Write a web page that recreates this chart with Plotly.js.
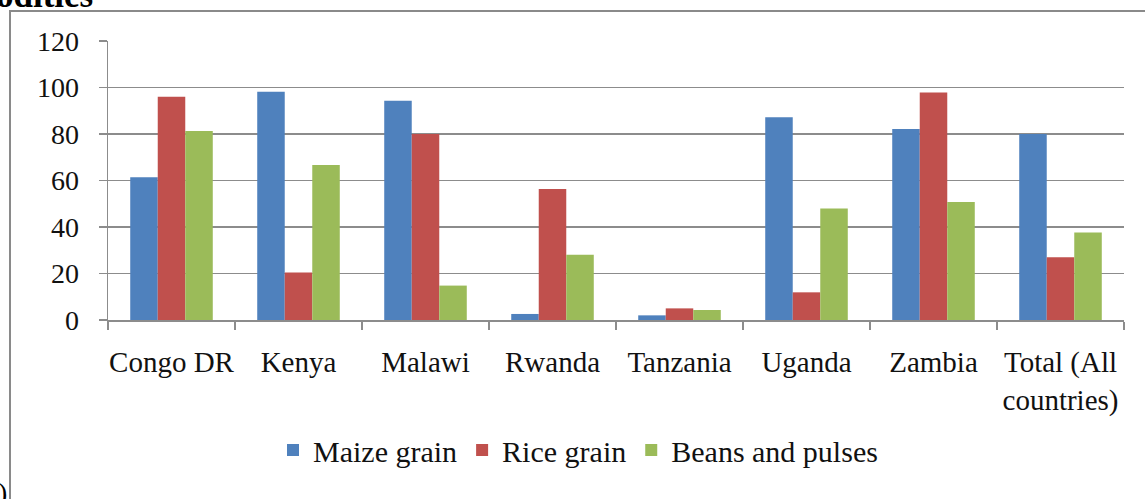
<!DOCTYPE html>
<html>
<head>
<meta charset="utf-8">
<script src="https://cdn.plot.ly/plotly-3.0.1.min.js"></script>
<style>
html,body{margin:0;padding:0;background:#fff;overflow:hidden;}
#chart{width:1145px;height:499px;}
</style>
</head>
<body>
<div id="chart"></div>
<script>
const categories = ["Congo DR", "Kenya", "Malawi", "Rwanda", "Tanzania", "Uganda", "Zambia", "Total (All<br>countries)"];
const seriesNames = ["Maize grain", "Rice grain", "Beans and pulses"];
const maize = [61.4, 98.2, 94.3, 2.6, 2.0, 87.2, 82.2, 80.0];
const rice = [96.0, 20.4, 80.0, 56.3, 5.0, 11.9, 97.9, 27.0];
const beans = [81.3, 66.7, 14.8, 28.1, 4.3, 48.0, 50.8, 37.6];
const yTicks = [0, 20, 40, 60, 80, 100, 120];

const colors = ["#4F81BD", "#C0504D", "#9BBB59"];
const values = [maize, rice, beans];

const traces = values.map((v, i) => ({
  type: "bar",
  name: seriesNames[i],
  x: categories,
  y: v,
  marker: {color: colors[i], line: {width: 0}},
  hoverinfo: "x+y+name"
}));

const font = '"Liberation Serif", "Times New Roman", serif';
const L = 108, R = 21, T = 41, B = 179, W = 1145, H = 499;
const pw = W - L - R, ph = H - T - B;

const layout = {
  width: W, height: H,
  margin: {l: L, r: R, t: T, b: B, pad: 0},
  paper_bgcolor: "#ffffff",
  plot_bgcolor: "#ffffff",
  barmode: "group",
  bargap: 0.35,
  bargroupgap: 0,
  font: {family: font, size: 28, color: "#111"},
  showlegend: true,
  legend: {
    orientation: "h",
    x: (578 - L) / pw, xanchor: "center",
    y: (H - 450 - B) / ph, yanchor: "middle",
    font: {family: font, size: 30, color: "#111"},
    itemwidth: 30,
    bgcolor: "rgba(0,0,0,0)"
  },
  xaxis: {
    type: "category",
    tickson: "boundaries",
    ticks: "outside",
    ticklen: 8,
    tickwidth: 1.5,
    tickcolor: "#8c8c8c",
    tickangle: 0,
    showline: true,
    linecolor: "#8c8c8c",
    linewidth: 1.5,
    showgrid: false,
    tickfont: {family: font, size: 29, color: "#111"},
    ticklabelstandoff: 16,
    fixedrange: true
  },
  yaxis: {
    range: [0, 120],
    tickvals: yTicks,
    ticktext: yTicks.map(String),
    ticks: "outside",
    ticklen: 8,
    tickwidth: 1.5,
    tickcolor: "#8c8c8c",
    showline: true,
    linecolor: "#8c8c8c",
    linewidth: 1.5,
    showgrid: true,
    gridcolor: "#8c8c8c",
    gridwidth: 1.5,
    zeroline: false,
    tickfont: {family: font, size: 28, color: "#111"},
    ticklabelstandoff: 14,
    fixedrange: true
  },
  shapes: [{
    type: "rect", xref: "paper", yref: "paper",
    x0: (10 - L) / pw, x1: (1300 - L) / pw,
    y0: (H - 600 - B) / ph, y1: (H - 11 - B) / ph,
    line: {color: "#8a8a8a", width: 2},
    fillcolor: "rgba(0,0,0,0)",
    layer: "below"
  }],
  annotations: [
    {text: "<b>odities</b>", xref: "paper", yref: "paper",
     x: (-6 - L) / pw, y: (H + 5 - B) / ph, xanchor: "left", yanchor: "middle",
     showarrow: false, font: {family: font, size: 35, color: "#000"}},
    {text: "0)", xref: "paper", yref: "paper",
     x: (9 - L) / pw, y: (H - 492 - B) / ph, xanchor: "right", yanchor: "middle",
     showarrow: false, font: {family: font, size: 28, color: "#000"}}
  ]
};

Plotly.newPlot("chart", traces, layout, {displayModeBar: false, staticPlot: true});
</script>
</body>
</html>
